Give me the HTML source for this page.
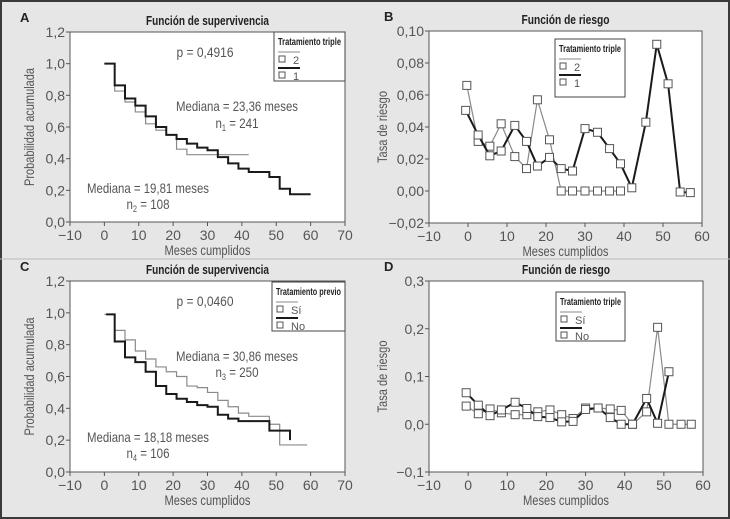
<!DOCTYPE html>
<html><head><meta charset="utf-8"><style>
html,body{margin:0;padding:0;background:#fff}
#wrap{position:relative;width:730px;height:519px;box-sizing:border-box;border:2px solid #3a3a3a;background:#e6e6e6}
svg{position:absolute;left:-2px;top:-2px}
text{font-family:"Liberation Sans Narrow","Liberation Sans",sans-serif;fill:#555}
.tl{font-size:14px}.ax{font-size:14px}.ttl{font-weight:bold;fill:#222;font-size:13px}
.an{font-size:14px}
</style></head><body>
<div id="wrap">
<svg id="s" width="730" height="519"></svg>
</div>
<script>
// Panel A data (survival step functions)
const aMonths1=[0,3,6,9,12,15,18,21,24,27,30,33,36,39,42,48,51,54,60];
const aSurv1=[1.0,0.863,0.78,0.735,0.667,0.60,0.55,0.524,0.495,0.47,0.453,0.41,0.37,0.337,0.316,0.284,0.21,0.175];
const aMonths2=[0,3,6,9,12,15,18,21,24,42];
const aSurv2=[1.0,0.827,0.758,0.695,0.62,0.58,0.55,0.46,0.425];
// Panel C data
const cMonths1=[0,3,6,9,12,15,18,21,24,27,30,33,36,39,42,48,51,59];
const cSurv1=[0.99,0.89,0.83,0.76,0.71,0.66,0.63,0.60,0.54,0.53,0.50,0.45,0.41,0.37,0.35,0.30,0.17];
const cMonths2=[0.5,3,6,9,12,15,18,21,24,27,30,33,36,39,48,54];
const cSurv2=[0.99,0.82,0.72,0.69,0.63,0.54,0.49,0.46,0.44,0.42,0.41,0.36,0.335,0.32,0.26,0.20];
// Panel B data (hazard)
const bX1=[-0.6,2.6,5.6,8.5,12,15,17.8,20.9,23.9,26.8,30,33.2,36.3,39.1,42,45.6,48.4,51.3,54.4,57];
const bHaz1=[0.0504,0.035,0.022,0.025,0.041,0.031,0.0156,0.021,0.014,0.0125,0.039,0.0367,0.0265,0.017,0.002,0.043,0.0917,0.067,-0.0006,-0.001];
const bX2=[-0.3,2.6,5.6,8.5,12,15,17.8,20.9,23.9,26.8,30,33.2,36.3,39.1];
const bHaz2=[0.066,0.031,0.028,0.042,0.0215,0.014,0.057,0.032,0,0,0,0,0,0];
// Panel D data (hazard)
const dX1=[-0.5,2.6,5.6,8.5,12,15,17.8,20.9,23.9,26.8,30,33.2,36.3,39.1,42,45.6,48.4,51.3,54.4,57];
const dHaz1=[0.038,0.022,0.032,0.024,0.020,0.020,0.026,0.030,0.020,0.012,0.034,0.034,0.032,0.029,0.0,0.026,0.203,0.0,0.0,0.0];
const dX2=[-0.5,2.6,5.6,8.5,12,15,17.8,20.9,23.9,26.8,30,33.2,36.3,39.1,42,45.6,48.4,51.3];
const dHaz2=[0.066,0.040,0.018,0.030,0.046,0.033,0.016,0.014,0.005,0.006,0.031,0.034,0.014,0.0,0.0,0.054,0.002,0.11];
const survXTicks=[-10,0,10,20,30,40,50,60,70];
const survYTicks=[0,0.2,0.4,0.6,0.8,1.0,1.2];
const bXTicks=[-10,0,10,20,30,40,50,60];
const bYTicks=[-0.02,0,0.02,0.04,0.06,0.08,0.10];
const dYTicks=[-0.1,0,0.1,0.2,0.3];

const S=document.getElementById('s'),NS='http://www.w3.org/2000/svg';
function mk(tag,at,txt,parent){const e=document.createElementNS(NS,tag);for(const k in at)e.setAttribute(k,at[k]);if(txt!=null)e.textContent=txt;(parent||S).appendChild(e);return e;}
const fmt=(v,d)=>v.toFixed(d).replace('.',',').replace(/^-/,'\u2212');
const fit=(t,w)=>{t.setAttribute('textLength',w);t.setAttribute('lengthAdjust','spacingAndGlyphs');};

function panel(p){
  const g=mk('g',{});
  
  
  const sx=v=>p.x0+(v-p.xmin)/(p.xmax-p.xmin)*(p.x1-p.x0);
  const sy=v=>p.y1-(v-p.ymin)/(p.ymax-p.ymin)*(p.y1-p.y0);
  const bg=mk('rect',{x:p.x0,y:p.y0,width:p.x1-p.x0,height:p.y1-p.y0,fill:'#fff',stroke:'#555','stroke-width':1},null,g);
  
  p.xt.forEach(v=>{mk('line',{x1:sx(v),x2:sx(v),y1:p.y1,y2:p.y1+4,stroke:'#555'},null,g);
    const t=mk('text',{x:sx(v),y:p.y1+18,'text-anchor':'middle',class:'tl'},fmt(v,0),g);
    });
  p.yt.forEach(v=>{mk('line',{x1:p.x0-4,x2:p.x0,y1:sy(v),y2:sy(v),stroke:'#555'},null,g);
    const t=mk('text',{x:p.x0-5,y:sy(v)+5,'text-anchor':'end',class:'tl'},fmt(v,p.yd),g);
    });
  const xt=mk('text',{x:(p.x0+p.x1)/2,y:p.y1+33,'text-anchor':'middle',class:'ax'},'Meses cumplidos',g);
  fit(xt,86);
  
  const yt=mk('text',{x:0,y:0,'text-anchor':'middle',class:'ax',transform:`translate(${p.x0-p.ylab},${(p.y0+p.y1)/2}) rotate(-90)`},p.ytitle,g);
  fit(yt,p.ytitle.length>15?118:72);
  
  const tt=mk('text',{x:(p.x0+p.x1)/2,y:p.y0-7,'text-anchor':'middle',class:'ttl'},p.title,g);
  fit(tt,p.title.length>20?123:88);
  
  const lt=mk('text',{x:p.letterX,y:p.y0-10,class:'ttl'},p.letter,g);
  
  p.series.forEach(s=>{
    let d='';
    if(s.step){for(let i=0;i<s.y.length;i++){d+=(i?'L':'M')+sx(s.x[i])+','+sy(s.y[i])+'L'+sx(s.x[i+1])+','+sy(s.y[i]);}
      if(s.dropTo!=null)d+='L'+sx(s.x[s.x.length-1])+','+sy(s.dropTo);}
    else s.x.forEach((v,i)=>{d+=(i?'L':'M')+sx(v)+','+sy(s.y[i]);});
    const pa=mk('path',{d,fill:'none',stroke:s.c,'stroke-width':s.w},null,g);
    
    if(!s.step)s.x.forEach((v,i)=>{const r=mk('rect',{x:sx(v)-4,y:sy(s.y[i])-4,width:8,height:8,fill:'#fff',stroke:'#555','stroke-width':1},null,g);
      });
  });
  const L=p.leg;
  const lg=mk('g',{},null,g);
  
  mk('rect',{x:L.x,y:L.y,width:L.w,height:L.h,fill:'#fff',stroke:'#444'},null,lg);
  const lt2=mk('text',{x:L.x+4,y:L.y+13,style:'font-weight:bold;fill:#222;font-size:10.5px'},L.title,lg);
  fit(lt2,L.w-8);
  L.items.forEach((it,i)=>{const yy=L.y+20+i*16;
    mk('line',{x1:L.x+4,x2:L.x+26,y1:yy,y2:yy,stroke:it.c,'stroke-width':it.w},null,lg);
    mk('rect',{x:L.x+5,y:yy+4,width:6,height:6,fill:'#fff',stroke:'#555'},null,lg);
    const te=mk('text',{x:L.x+19,y:yy+12,style:'font-size:11px'},it.t,lg);
    });
  (p.notes||[]).forEach(n=>{const t=mk('text',{x:n.x,y:n.y,'text-anchor':'middle',class:'an'},null,g);
    t.innerHTML=n.h;fit(t,n.w);});
}
const G='#8a8a8a',K='#1a1a1a';
panel({name:'panel-a',letter:'A',letterX:20,title:'Función de supervivencia',x0:70,x1:345,y0:32,y1:222,xmin:-10,xmax:70,ymin:0,ymax:1.2,xt:survXTicks,yt:survYTicks,yd:1,ylab:36,ytitle:'Probabilidad acumulada',
 series:[{x:aMonths2,y:aSurv2,step:true,c:G,w:1.2,name:'survival-group-2'},{x:aMonths1,y:aSurv1,step:true,c:K,w:2,name:'survival-group-1'}],
 leg:{x:274,y:32,w:71,h:49,title:'Tratamiento triple',items:[{c:G,w:1,t:'2'},{c:K,w:2,t:'1'}]},
 notes:[{x:205,y:57,w:57,h:'p = 0,4916'},{x:237,y:111,w:122,h:'Mediana = 23,36 meses'},{x:237,y:128,w:43,h:'n<tspan font-size="9" dy="3">1</tspan><tspan dy="-3"> = 241</tspan>'},{x:148,y:193,w:122,h:'Mediana = 19,81 meses'},{x:148,y:209,w:43,h:'n<tspan font-size="9" dy="3">2</tspan><tspan dy="-3"> = 108</tspan>'}]});
panel({name:'panel-b',letter:'B',letterX:384,title:'Función de riesgo',x0:429,x1:702,y0:31,y1:223,xmin:-10,xmax:60,ymin:-0.02,ymax:0.10,xt:bXTicks,yt:bYTicks,yd:2,ylab:42,ytitle:'Tasa de riesgo',
 series:[{x:bX2,y:bHaz2,c:G,w:1.2,name:'hazard-group-2'},{x:bX1,y:bHaz1,c:K,w:2,name:'hazard-group-1'}],
 leg:{x:555,y:39,w:70,h:58,title:'Tratamiento triple',items:[{c:G,w:1,t:'2'},{c:K,w:2,t:'1'}]}});
panel({name:'panel-c',letter:'C',letterX:20,title:'Función de supervivencia',x0:70,x1:345,y0:281,y1:472,xmin:-10,xmax:70,ymin:0,ymax:1.2,xt:survXTicks,yt:survYTicks,yd:1,ylab:36,ytitle:'Probabilidad acumulada',
 series:[{x:cMonths1,y:cSurv1,step:true,c:G,w:1.2,name:'survival-si'},{x:cMonths2,y:cSurv2,step:true,c:K,w:2,name:'survival-no',dropTo:0.20}],
 leg:{x:272,y:282,w:73,h:49,title:'Tratamiento previo',items:[{c:G,w:1,t:'Sí'},{c:K,w:2,t:'No'}]},
 notes:[{x:205,y:306,w:57,h:'p = 0,0460'},{x:237,y:361,w:122,h:'Mediana = 30,86 meses'},{x:237,y:377,w:43,h:'n<tspan font-size="9" dy="3">3</tspan><tspan dy="-3"> = 250</tspan>'},{x:148,y:442,w:122,h:'Mediana = 18,18 meses'},{x:148,y:458,w:43,h:'n<tspan font-size="9" dy="3">4</tspan><tspan dy="-3"> = 106</tspan>'}]});
panel({name:'panel-d',letter:'D',letterX:384,title:'Función de riesgo',x0:429,x1:703,y0:281,y1:472,xmin:-10,xmax:60,ymin:-0.1,ymax:0.3,xt:bXTicks,yt:dYTicks,yd:1,ylab:42,ytitle:'Tasa de riesgo',
 series:[{x:dX1,y:dHaz1,c:G,w:1.2,name:'hazard-si'},{x:dX2,y:dHaz2,c:K,w:2,name:'hazard-no'}],
 leg:{x:556,y:292,w:69,h:49,title:'Tratamiento triple',items:[{c:G,w:1,t:'Sí'},{c:K,w:2,t:'No'}]}});
mk('line',{x1:0,x2:730,y1:259,y2:259,stroke:'#bbb'});
</script>
</body></html>
